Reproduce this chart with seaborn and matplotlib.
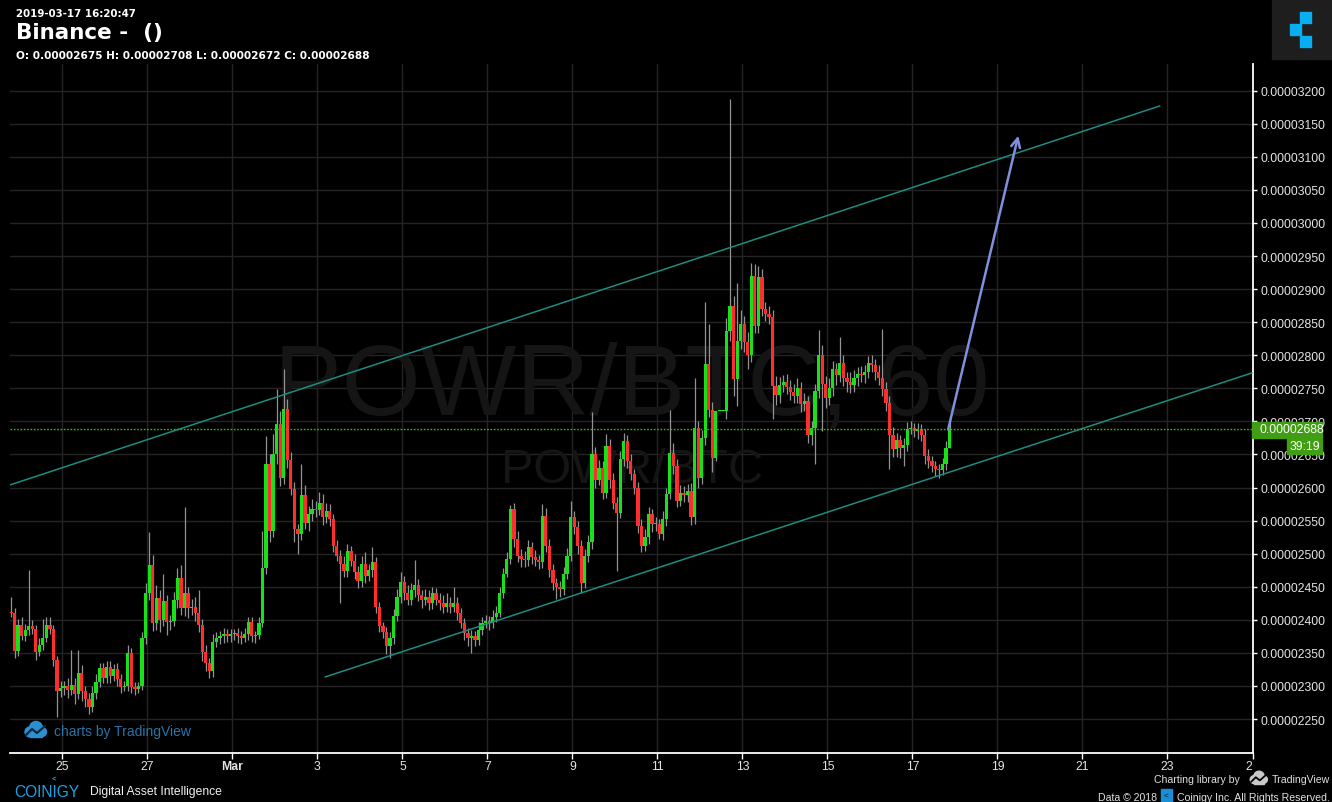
import numpy as np
import pandas as pd
import matplotlib
matplotlib.use("Agg")
import matplotlib.pyplot as plt
import matplotlib.dates as mdates
from matplotlib.patches import Rectangle, Ellipse
from matplotlib.lines import Line2D
from matplotlib.transforms import Bbox
import seaborn as sns

# POWR/BTC on Binance, 2h candles, prices in satoshi (1e-8 BTC)
start_time = "2019-02-23 19:00"
first_open = 2412

close_prices = [
    2410, 2353,                                                              # Feb 23
    2392, 2376, 2385, 2390, 2386, 2352, 2362, 2372, 2392, 2386, 2340, 2292,  # Feb 24
    2297, 2300, 2294, 2302, 2288, 2320, 2292, 2280, 2268, 2290, 2306, 2327,  # Feb 25
    2312, 2328, 2315, 2325, 2310, 2298, 2300, 2350, 2298, 2295, 2300, 2372,  # Feb 26
    2440, 2483, 2395, 2433, 2400, 2428, 2397, 2398, 2430, 2463, 2418, 2440,  # Feb 27
    2418, 2420, 2410, 2392, 2352, 2335, 2322, 2367, 2372, 2375, 2378, 2375,  # Feb 28
    2378, 2380, 2375, 2372, 2378, 2396, 2375, 2377, 2395, 2479, 2636, 2535,  # Mar 1
    2651, 2696, 2615, 2719, 2641, 2598, 2537, 2530, 2589, 2547, 2560, 2568,  # Mar 2
    2566, 2576, 2555, 2565, 2552, 2512, 2497, 2484, 2474, 2504, 2489, 2472,  # Mar 3
    2458, 2484, 2466, 2475, 2487, 2419, 2391, 2381, 2361, 2372, 2406, 2434,  # Mar 4
    2457, 2440, 2430, 2445, 2452, 2437, 2430, 2435, 2425, 2440, 2430, 2425,  # Mar 5
    2420, 2425, 2420, 2425, 2410, 2395, 2380, 2372, 2375, 2370, 2385, 2395,  # Mar 6
    2398, 2395, 2405, 2411, 2441, 2470, 2492, 2567, 2522, 2497, 2492, 2490,  # Mar 7
    2510, 2495, 2490, 2487, 2557, 2512, 2476, 2455, 2450, 2446, 2470, 2497,  # Mar 8
    2555, 2540, 2512, 2456, 2497, 2517, 2650, 2612, 2630, 2592, 2663, 2612,  # Mar 9
    2577, 2562, 2643, 2670, 2640, 2620, 2600, 2542, 2512, 2525, 2560, 2545,  # Mar 10
    2545, 2530, 2552, 2590, 2652, 2633, 2580, 2592, 2588, 2595, 2555, 2690,  # Mar 11
    2615, 2675, 2787, 2718, 2645, 2715, 2715, 2715, 2836, 2874, 2764, 2822,  # Mar 12
    2848, 2820, 2800, 2920, 2845, 2918, 2870, 2862, 2858, 2754, 2740, 2755,  # Mar 13
    2760, 2752, 2744, 2738, 2750, 2726, 2731, 2680, 2690, 2746, 2800, 2756,  # Mar 14
    2735, 2751, 2779, 2770, 2789, 2765, 2760, 2755, 2765, 2772, 2770, 2775,  # Mar 15
    2789, 2785, 2775, 2765, 2749, 2728, 2680, 2658, 2672, 2660, 2665, 2689,  # Mar 16
    2690, 2686, 2688, 2680, 2648, 2640, 2632, 2628, 2627, 2635, 2660, 2688,  # Mar 17
]

# wick length above the body top / below the body bottom
upper_wicks = [
    23, 8,
    10, 12, 8, 85, 10, 6, 10, 30, 12, 12, 6, 6,
    10, 8, 12, 52, 10, 34, 12, 8, 10, 10, 12, 8,
    8, 10, 10, 8, 10, 8, 8, 12, 8, 8, 6, 10,
    15, 50, 15, 20, 12, 42, 10, 10, 12, 15, 20, 130,
    10, 12, 15, 35, 10, 10, 8, 12, 10, 8, 10, 8,
    8, 6, 8, 8, 10, 8, 8, 6, 10, 56, 42, 15,
    30, 53, 20, 60, 15, 12, 10, 8, 47, 15, 12, 15,
    12, 17, 15, 12, 10, 8, 8, 8, 12, 10, 8, 10,
    10, 12, 19, 10, 23, 8, 8, 6, 8, 10, 10, 12,
    15, 10, 12, 10, 38, 10, 8, 12, 10, 10, 8, 10,
    12, 15, 10, 24, 10, 8, 8, 8, 10, 8, 12, 10,
    10, 8, 10, 10, 8, 8, 10, 6, 10, 12, 10, 12,
    10, 8, 10, 8, 18, 12, 10, 8, 8, 8, 10, 12,
    25, 10, 10, 8, 10, 12, 64, 12, 12, 10, 18, 10,
    10, 8, 12, 13, 10, 10, 8, 8, 10, 12, 10, 8,
    10, 8, 12, 10, 66, 15, 10, 12, 10, 10, 12, 76,
    10, 12, 93, 60, 12, 0, 0, 0, 20, 313, 15, 87,
    20, 12, 15, 20, 18, 17, 12, 10, 12, 10, 15, 12,
    10, 12, 10, 12, 15, 10, 12, 8, 10, 10, 38, 15,
    12, 15, 12, 10, 38, 12, 10, 15, 12, 10, 12, 10,
    10, 12, 10, 10, 74, 10, 10, 12, 10, 8, 10, 10,
    10, 8, 10, 8, 8, 10, 8, 8, 8, 10, 10, 20,
]
lower_wicks = [
    5, 10,
    8, 6, 8, 8, 8, 12, 6, 8, 6, 8, 10, 39,
    8, 10, 12, 8, 15, 8, 15, 12, 10, 8, 10, 8,
    8, 8, 10, 8, 10, 8, 6, 8, 8, 8, 6, 6,
    8, 10, 12, 10, 18, 10, 20, 12, 8, 12, 10, 12,
    15, 10, 12, 10, 15, 12, 10, 8, 8, 8, 10, 8,
    8, 8, 10, 8, 6, 8, 8, 10, 6, 6, 10, 18,
    10, 15, 12, 10, 12, 10, 20, 31, 10, 10, 12, 10,
    10, 8, 12, 8, 10, 10, 8, 58, 10, 10, 8, 10,
    10, 8, 10, 8, 10, 8, 10, 8, 12, 18, 8, 8,
    8, 10, 8, 8, 10, 8, 12, 8, 10, 8, 8, 10,
    10, 8, 10, 8, 10, 8, 10, 12, 22, 10, 8, 8,
    8, 10, 8, 8, 6, 8, 6, 8, 12, 10, 12, 10,
    8, 10, 8, 10, 8, 10, 12, 10, 19, 12, 8, 8,
    8, 10, 12, 16, 8, 10, 10, 12, 8, 10, 8, 12,
    10, 88, 8, 10, 10, 8, 10, 10, 10, 8, 10, 12,
    10, 8, 10, 10, 8, 12, 10, 8, 10, 10, 12, 10,
    15, 10, 10, 12, 22, 5, 0, 0, 12, 15, 25, 41,
    12, 15, 20, 10, 12, 12, 10, 10, 10, 50, 15, 12,
    10, 10, 12, 10, 10, 12, 10, 12, 15, 55, 10, 70,
    15, 10, 12, 15, 10, 12, 15, 12, 10, 12, 10, 12,
    10, 10, 12, 10, 10, 12, 52, 12, 12, 15, 27, 10,
    8, 10, 12, 10, 12, 10, 8, 10, 12, 8, 8, 0,
]

price_ticks = [2250, 2300, 2350, 2400, 2450, 2500, 2550, 2600, 2650, 2700,
               2750, 2800, 2850, 2900, 2950, 3000, 3050, 3100, 3150, 3200]
date_ticks = ["2019-02-25", "2019-02-27", "2019-03-01", "2019-03-03", "2019-03-05",
              "2019-03-07", "2019-03-09", "2019-03-11", "2019-03-13", "2019-03-15",
              "2019-03-17", "2019-03-19", "2019-03-21", "2019-03-23", "2019-03-25"]
date_labels = ["25", "27", "Mar", "3", "5", "7", "9", "11", "13", "15",
               "17", "19", "21", "23", "25"]

# drawn trend channel and target arrow
upper_channel_t = ["2019-02-23 18:27", "2019-03-22 19:41"]
upper_channel_p = [2604, 3177]
lower_channel_t = ["2019-03-03 04:21", "2019-03-24 23:45"]
lower_channel_p = [2313.6, 2773.4]
arrow_t = ["2019-03-17 20:10", "2019-03-19 11:46"]
arrow_p = [2688, 3132]
last_price = 2688
x_range = ["2019-02-23 18:27", "2019-03-24 23:45"]
y_range = [2199.4, 3240.4]

W, H = 1332, 803


def fx(px):
    return px / W


def fy(py):
    return 1 - py / H


def cloud_icon(fig, cx, cy, s, fill, stroke):
    # small TradingView-like cloud with a zigzag line
    for dx, dy, r in [(-6, 2, 5), (0, -2, 6.5), (6, 2, 4.5)]:
        fig.add_artist(Ellipse((fx(cx + dx * s), fy(cy + dy * s)), 2 * r * s / W,
                               2 * r * s / H, transform=fig.transFigure,
                               color=fill, zorder=12))
    fig.add_artist(Rectangle((fx(cx - 6 * s), fy(cy + 7 * s)), 12 * s / W, 5 * s / H,
                             transform=fig.transFigure, color=fill, zorder=12))
    zx = [cx - 10 * s, cx - 4 * s, cx + 1 * s, cx + 9 * s]
    zy = [cy + 5 * s, cy - 1 * s, cy + 3 * s, cy - 4 * s]
    fig.add_artist(Line2D([fx(v) for v in zx], [fy(v) for v in zy],
                          transform=fig.transFigure, color=stroke, lw=1.6 * s,
                          zorder=13))


sns.set_style("dark")
plt.rcParams["font.family"] = ["Liberation Sans", "DejaVu Sans"]

fig = plt.figure(figsize=(W / 100, H / 100), dpi=100)
fig.patch.set_facecolor("black")
ax = fig.add_axes([fx(10), fy(753.5), (1252.5 - 10) / W, 688.5 / H])
ax.set_facecolor("black")

# === Candles ===
times = pd.date_range(start_time, periods=len(close_prices), freq="2h")
x = mdates.date2num(times)
closes = np.array(close_prices, dtype=float)
opens = np.concatenate([[first_open], closes[:-1]])
highs = np.maximum(opens, closes) + np.array(upper_wicks)
lows = np.minimum(opens, closes) - np.array(lower_wicks)
rising = closes >= opens
colors = np.where(rising, "#19e119", "#ff2d2d")

ax.vlines(x, lows, highs, colors="#939393", linewidth=0.9, zorder=3)
ax.bar(x, np.maximum(np.abs(closes - opens), 1.6), bottom=np.minimum(opens, closes),
       width=0.076, color=colors, linewidth=0, zorder=4)

# === Channel lines (seaborn) ===
channel = pd.DataFrame({
    "time": mdates.date2num(pd.to_datetime(upper_channel_t + lower_channel_t)),
    "price": upper_channel_p + lower_channel_p,
    "line": ["upper", "upper", "lower", "lower"],
})
sns.lineplot(data=channel, x="time", y="price", units="line", estimator=None,
             color="#1d8c82", linewidth=1.1, ax=ax, zorder=5, legend=False)

# arrow to target
at = mdates.date2num(pd.to_datetime(arrow_t))
ax.annotate("", xy=(at[1], arrow_p[1]), xytext=(at[0], arrow_p[0]),
            arrowprops=dict(arrowstyle="->", color="#7f91dc", lw=1.8,
                            mutation_scale=16, shrinkA=0, shrinkB=0), zorder=6)

# current price line
ax.axhline(last_price, color="#44b51c", lw=1, ls=(0, (1.2, 1.2)), zorder=5)

# === Axes ===
xr = mdates.date2num(pd.to_datetime(x_range))
ax.set_xlim(xr[0], xr[1])
ax.set_ylim(*y_range)
ax.set_xticks(mdates.date2num(pd.to_datetime(date_ticks)))
ax.set_xticklabels(date_labels)
ax.set_yticks(price_ticks)
ax.set_yticklabels([f"{p / 1e8:.8f}" for p in price_ticks])
ax.yaxis.tick_right()
ax.set_xlabel("")
ax.set_ylabel("")
ax.grid(True, color="#242424", linewidth=1)
ax.set_axisbelow(True)
for side in ["top", "left"]:
    ax.spines[side].set_visible(False)
for side in ["right", "bottom"]:
    ax.spines[side].set_visible(True)
    ax.spines[side].set_color("white")
    ax.spines[side].set_linewidth(1.3)
ax.tick_params(axis="y", which="both", right=True, left=False, colors="white",
               labelcolor="#e4e4e4", labelsize=8.8, length=3, width=1, pad=2.5)
ax.tick_params(axis="x", which="both", bottom=True, colors="white",
               labelcolor="#e4e4e4", labelsize=8.8, length=4, width=1, pad=1.5)
xlabels = ax.get_xticklabels()
xlabels[2].set_fontweight("bold")
xlabels[-1].set_clip_on(True)
xlabels[-1].set_clip_box(Bbox.from_extents(0, 0, 1252, H))

# watermark
ax.text(fx(632), fy(415), "POWR/BTC, 60", transform=fig.transFigure, ha="center",
        va="baseline", fontsize=73, color="#151515", zorder=1)
ax.text(fx(632), fy(483), "POWR/BTC", transform=fig.transFigure, ha="center",
        va="baseline", fontsize=35, color="#151515", zorder=1)

# "charts by TradingView"
cloud_icon(fig, 36, 731, 1.0, "#2e8fd0", "#0a2a40")
ax.text(fx(54), fy(736), "charts by TradingView", transform=fig.transFigure,
        ha="left", va="baseline", fontsize=10, color="#2b73a8", zorder=7)

# price labels at the right
fig.add_artist(Rectangle((fx(1252), fy(438.5)), 70 / W, 15.5 / H,
                         transform=fig.transFigure, color="#3f9e13", zorder=10))
fig.add_artist(Rectangle((fx(1287), fy(454.5)), 35 / W, 14.5 / H,
                         transform=fig.transFigure, color="#3f9e13", zorder=10))
fig.text(fx(1259), fy(430.5), f"{last_price / 1e8:.8f}", ha="left", va="center",
         fontsize=8.8, color="white", zorder=11)
fig.text(fx(1304.5), fy(447.5), "39:19", ha="center", va="center",
         fontsize=8.8, color="white", zorder=11)

# === Header ===
head = ["DejaVu Sans"]
fig.text(fx(16), fy(17), "2019-03-17 16:20:47", family=head, fontweight="bold",
         fontsize=7.4, color="white", va="baseline")
fig.text(fx(16), fy(39), "Binance -  ()", family=head, fontweight="bold",
         fontsize=15.5, color="white", va="baseline")
fig.text(fx(16), fy(59), "O: 0.00002675 H: 0.00002708 L: 0.00002672 C: 0.00002688",
         family=head, fontweight="bold", fontsize=7.6, color="white", va="baseline")

# top-right logo
fig.add_artist(Rectangle((fx(1272), fy(60)), 60 / W, 60 / H,
                         transform=fig.transFigure, color="#1e1e1e", zorder=10))
for sx, sy in [(1300, 24), (1290, 36), (1300, 48)]:
    fig.add_artist(Rectangle((fx(sx), fy(sy)), 11 / W, 11.5 / H,
                             transform=fig.transFigure, color="#08aeef", zorder=11))

# === Footer ===
fig.text(fx(14), fy(797), "COINIGY", fontsize=11.2, color="#1ba3e3", va="baseline")
fig.text(fx(52), fy(781), "<", fontsize=5.5, color="#1ba3e3", va="baseline",
         fontweight="bold")
fig.text(fx(90), fy(795), "Digital Asset Intelligence", fontsize=8.7,
         color="#f0f0f0", va="baseline")
fig.text(fx(1240), fy(783), "Charting library by", fontsize=7.6, color="#e0e0e0",
         ha="right", va="baseline")
cloud_icon(fig, 1259, 779, 0.8, "#c8c8c8", "#000000")
fig.text(fx(1272), fy(783), "TradingView", fontsize=7.6, color="#e0e0e0",
         va="baseline")
fig.text(fx(1157), fy(801), "Data \u00a9 2018", fontsize=7.6, color="#e0e0e0",
         ha="right", va="baseline")
fig.add_artist(Rectangle((fx(1161), fy(803)), 11 / W, 13 / H,
                         transform=fig.transFigure, color="#1b8fd6", zorder=10))
fig.text(fx(1166.5), fy(797), "<", fontsize=6, color="#0b3d66", ha="center",
         va="center", fontweight="bold", zorder=11)
fig.text(fx(1177), fy(801), "Coinigy Inc. All Rights Reserved.", fontsize=7.6,
         color="#e0e0e0", va="baseline")

fig.savefig("out.png", dpi=100, facecolor="black")
plt.close(fig)
